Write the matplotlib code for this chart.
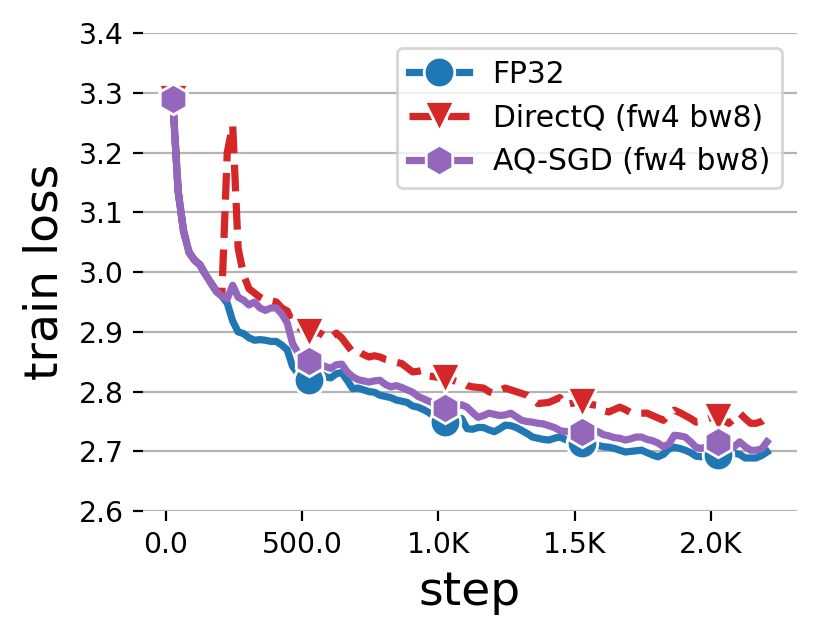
import numpy as np
import matplotlib
matplotlib.use('Agg')
import matplotlib.pyplot as plt
from matplotlib.ticker import FuncFormatter, MultipleLocator

# logged every 20 steps, starting at step 25
steps = np.arange(25, 2206, 20)

# shared early part (all runs identical until ~step 215)
early = [3.290, 3.135, 3.068, 3.033, 3.020, 3.012, 2.996, 2.982, 2.968, 2.960]

fp32 = early + [
    2.948, 2.918, 2.900, 2.897, 2.890, 2.886, 2.887, 2.886, 2.884, 2.884,
    2.878, 2.870, 2.842, 2.830, 2.824, 2.819, 2.825, 2.831, 2.825, 2.823,
    2.830, 2.832, 2.819, 2.805, 2.806, 2.803, 2.800, 2.799, 2.794, 2.792,
    2.790, 2.786, 2.784, 2.782, 2.776, 2.774, 2.770, 2.765, 2.758, 2.752,
    2.750, 2.752, 2.757, 2.755, 2.738, 2.737, 2.740, 2.740, 2.736, 2.733,
    2.738, 2.744, 2.743, 2.740, 2.735, 2.730, 2.724, 2.722, 2.720, 2.719,
    2.722, 2.724, 2.720, 2.717, 2.715, 2.714, 2.712, 2.711, 2.710, 2.708,
    2.707, 2.705, 2.702, 2.699, 2.700, 2.701, 2.702, 2.698, 2.694, 2.691,
    2.695, 2.704, 2.707, 2.705, 2.702, 2.698, 2.692, 2.691, 2.692, 2.693,
    2.694, 2.696, 2.697, 2.697, 2.695, 2.689, 2.689, 2.689, 2.693, 2.699,
]

directq = early + [
    3.200, 3.246, 3.040, 2.995, 2.972, 2.965, 2.958, 2.953, 2.952, 2.950,
    2.940, 2.935, 2.915, 2.908, 2.903, 2.900, 2.898, 2.898, 2.892, 2.890,
    2.898, 2.890, 2.878, 2.866, 2.868, 2.862, 2.858, 2.860, 2.858, 2.854,
    2.852, 2.849, 2.847, 2.840, 2.833, 2.834, 2.836, 2.826, 2.825, 2.823,
    2.822, 2.820, 2.817, 2.815, 2.810, 2.808, 2.807, 2.806, 2.800, 2.797,
    2.802, 2.806, 2.803, 2.800, 2.797, 2.794, 2.787, 2.780, 2.781, 2.782,
    2.786, 2.790, 2.778, 2.780, 2.782, 2.782, 2.780, 2.778, 2.777, 2.768,
    2.766, 2.770, 2.774, 2.770, 2.765, 2.764, 2.764, 2.764, 2.760, 2.756,
    2.752, 2.762, 2.769, 2.765, 2.760, 2.755, 2.749, 2.750, 2.754, 2.757,
    2.758, 2.752, 2.747, 2.755, 2.764, 2.755, 2.747, 2.747, 2.750, 2.757,
]

aqsgd = early + [
    2.955, 2.978, 2.958, 2.953, 2.945, 2.950, 2.940, 2.936, 2.940, 2.940,
    2.930, 2.915, 2.880, 2.865, 2.858, 2.852, 2.850, 2.846, 2.842, 2.839,
    2.845, 2.846, 2.833, 2.825, 2.820, 2.818, 2.816, 2.818, 2.819, 2.812,
    2.808, 2.810, 2.807, 2.803, 2.799, 2.792, 2.788, 2.784, 2.780, 2.776,
    2.772, 2.770, 2.775, 2.778, 2.774, 2.765, 2.757, 2.760, 2.764, 2.762,
    2.760, 2.761, 2.764, 2.758, 2.752, 2.750, 2.749, 2.747, 2.746, 2.743,
    2.740, 2.735, 2.733, 2.734, 2.733, 2.733, 2.734, 2.735, 2.733, 2.728,
    2.726, 2.723, 2.722, 2.719, 2.721, 2.724, 2.724, 2.720, 2.718, 2.714,
    2.708, 2.712, 2.727, 2.726, 2.724, 2.716, 2.707, 2.705, 2.708, 2.712,
    2.716, 2.710, 2.703, 2.708, 2.716, 2.708, 2.702, 2.702, 2.704, 2.716,
]

series = [
    ('FP32', fp32, '#1f77b4', '-', 'o'),
    ('DirectQ (fw4 bw8)', directq, '#d62728', '--', 'v'),
    ('AQ-SGD (fw4 bw8)', aqsgd, '#9467bd', '-', 'h'),
]

fig = plt.figure(figsize=(4.145, 3.175), dpi=200)
ax = fig.add_axes([0.1725, 0.195, 0.7885, 0.753])

for label, vals, color, ls, marker in series:
    ax.plot(steps, vals, ls=ls, color=color, lw=2.6, marker=marker,
            markersize=11, markevery=25, markeredgecolor='white',
            markeredgewidth=1.0, label=label)

ax.set_ylim(2.6, 3.4)
ax.yaxis.set_major_locator(MultipleLocator(0.1))
ax.yaxis.set_major_formatter(FuncFormatter(lambda v, p: f'{v:.1f}'))
ax.xaxis.set_major_locator(MultipleLocator(500))


def kfmt(v, p):
    if v >= 1000:
        return f'{v / 1000:.1f}K'
    return f'{v:.1f}'


ax.xaxis.set_major_formatter(FuncFormatter(kfmt))

for s in ax.spines.values():
    s.set_visible(False)
ax.grid(axis='y', color='#b4b4b4', lw=0.8)
ax.set_axisbelow(True)
ax.tick_params(labelsize=10.2, length=3.5, width=0.8)

ax.set_xlabel('step', fontsize=17)
ax.set_ylabel('train loss', fontsize=17)
ax.legend(fontsize=10.7, loc='upper right')

fig.savefig('out.png', dpi=200)
